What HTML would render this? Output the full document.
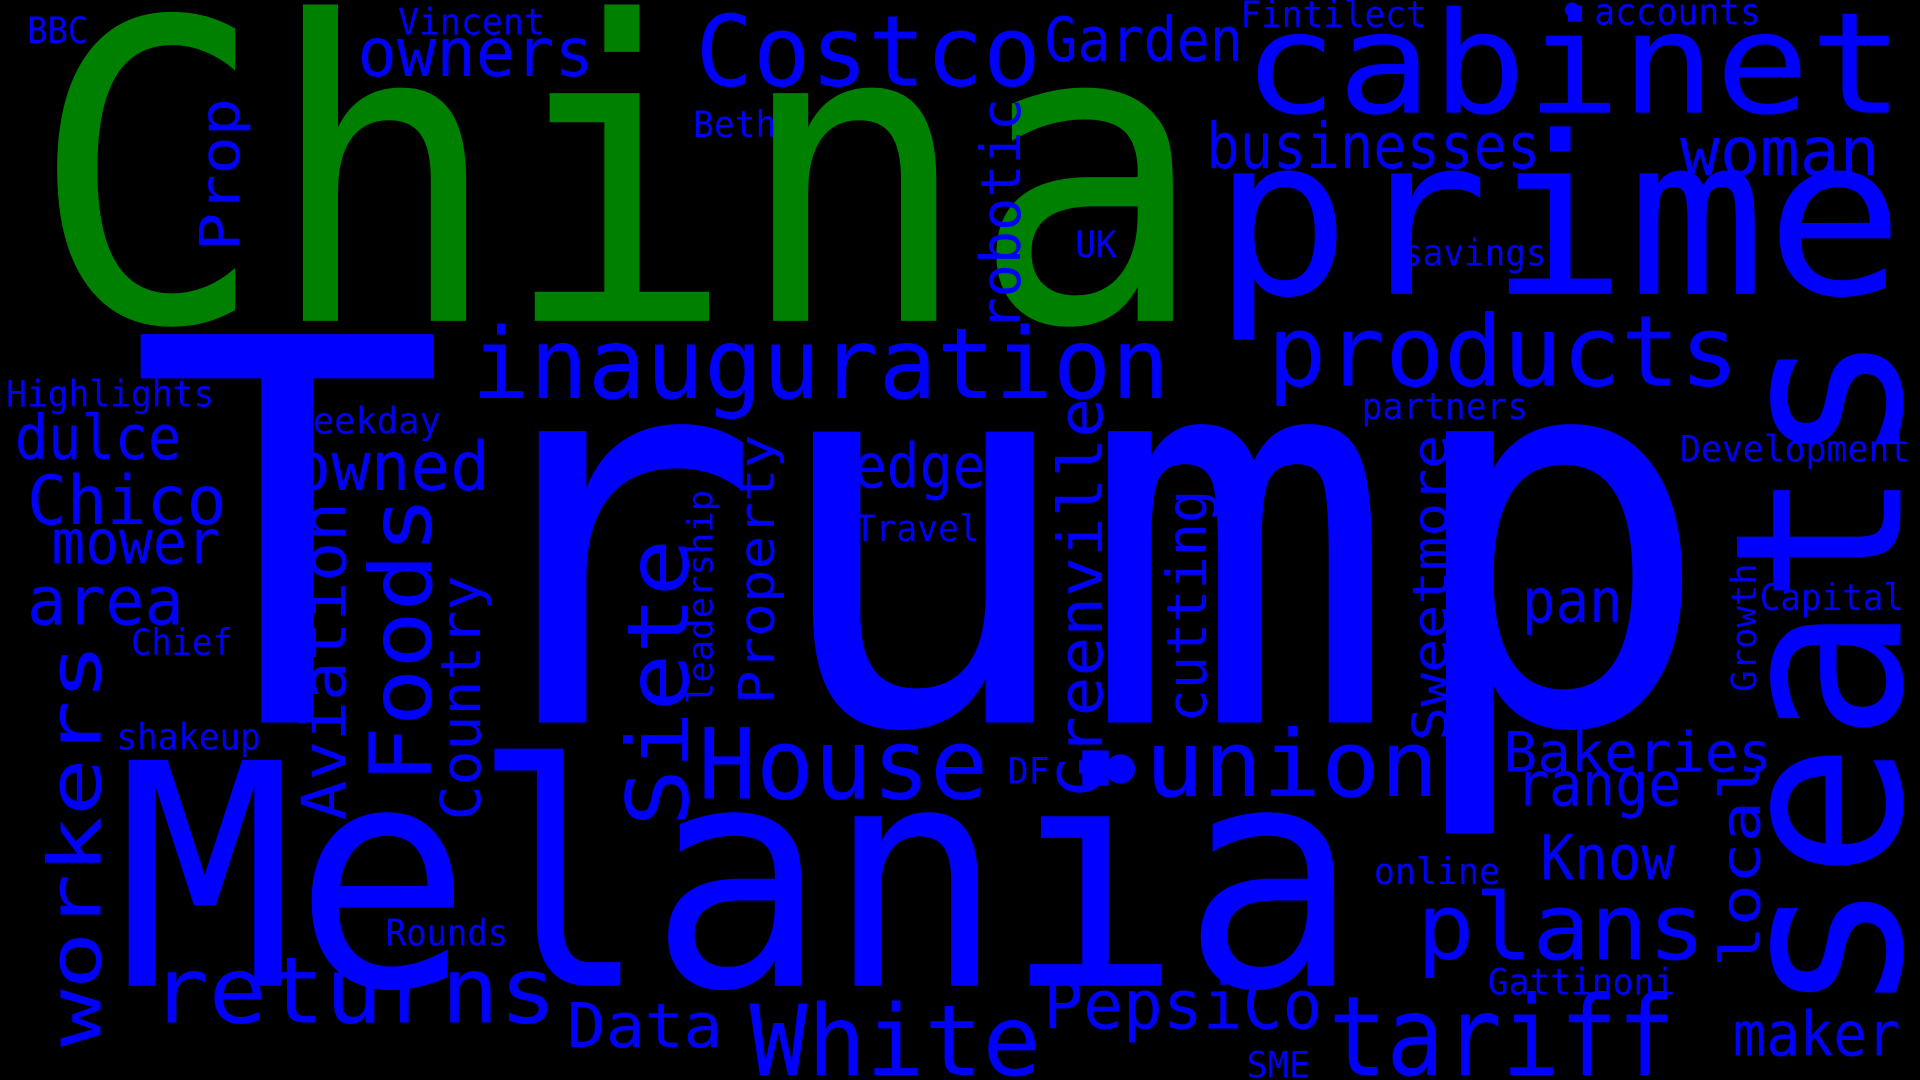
<!DOCTYPE html>
<html><head><meta charset="utf-8"><style>
html,body{margin:0;padding:0;background:#000;width:1920px;height:1080px;overflow:hidden}
svg{display:block}
text{font-family:"DejaVu Sans Mono","Liberation Mono",monospace;fill:#0000ff}
</style></head><body>
<svg width="1920" height="1080" viewBox="0 0 1568 882" xmlns="http://www.w3.org/2000/svg">
<rect width="1568" height="882" fill="#000"/>
<g id="words"></g>
</svg>
<script>
// [word, x, y(baseline), fontSize, length, rotated, color]
const words = ["China","Trump","Melania","seats","cabinet","prime","Costco","Garden","owners","Vincent","BBC","Fintilect","accounts","Beth","businesses","woman","UK","savings","inauguration","products","Highlights","partners","Weekday","dulce","Development","owned","edge","Chico","Travel","mower","area","pan","Capital","Chief","shakeup","House","union","Bakeries","DF","range","Know","online","plans","Rounds","Gattinoni","returns","Data","White","PepsiCo","tariff","maker","SME","Prop","robotic","workers","Aviation","Foods","Country","Siete","leadership","Property","Greenville","cutting","Sweetmore","local","Growth"];
const xs = [25,105,95,1552,1015,990,568,853,292,325,22,1013,1302,566,985,1372,878,1145,385,1035,5,1112,238,12,1372,238,697,22,698,42,22,1243,1437,107,95,570,935,1228,823,1238,1258,1122,1157,315,1215,123,463,612,852,1085,1415,1018,195,833,82,282,352,392,562,582,632,900,985,1182,1437,1434];
const ys = [262,590,805,830,92,240,70,50,62,28,35,22,20,112,137,143,210,217,325,315,332,342,354,375,377,400,398,428,442,460,510,508,498,535,612,652,650,630,640,658,718,722,783,772,812,835,855,878,840,878,862,880,205,270,855,670,640,670,675,575,575,650,590,605,790,565];
const sizes = [340,435,253,190,115,180,80,50,55,30,30,30,30,30,52,55,30,30,80,80,30,30,30,50,30,55,50,55,30,50,55,50,30,30,30,80,75,45,30,50,50,30,75,30,30,75,50,80,55,90,50,30,45,45,60,50,70,45,70,28,40,50,45,40,45,28];
const lens = [960,1295,1015,560,540,565,282,162,193,120,50,152,136,68,273,163,34,118,570,385,170,136,122,136,188,162,108,163,102,138,128,82,118,83,118,237,240,219,34,135,110,103,236,100,153,332,127,238,228,283,137,52,125,190,330,260,235,200,235,175,220,325,190,250,170,105];
const rots = [0,0,0,1,0,0,0,0,0,0,0,0,0,0,0,0,0,0,0,0,0,0,0,0,0,0,0,0,0,0,0,0,0,0,0,0,0,0,0,0,0,0,0,0,0,0,0,0,0,0,0,0,1,1,1,1,1,1,1,1,1,1,1,1,1,1];
const greens = ["China"];
const g = document.getElementById('words');
const NS = "http://www.w3.org/2000/svg";
for (let i = 0; i < words.length; i++) {
  const t = document.createElementNS(NS, 'text');
  t.textContent = words[i];
  t.setAttribute('font-size', sizes[i]);
  t.setAttribute('textLength', lens[i]);
  t.setAttribute('lengthAdjust', 'spacingAndGlyphs');
  if (rots[i]) {
    t.setAttribute('x', 0); t.setAttribute('y', 0);
    t.setAttribute('transform', 'translate(' + xs[i] + ',' + ys[i] + ') rotate(-90)');
  } else {
    t.setAttribute('x', xs[i]); t.setAttribute('y', ys[i]);
  }
  if (greens.includes(words[i])) t.style.fill = '#008000';
  
  
  g.appendChild(t);
}
</script>
<svg style="position:absolute;left:0;top:0" width="1920" height="1080" viewBox="0 0 1568 882">
<circle cx="1284" cy="8" r="6" fill="#0000ff"/>
<circle cx="915" cy="628" r="12" fill="#0000ff"/>
</svg>
</body></html>
